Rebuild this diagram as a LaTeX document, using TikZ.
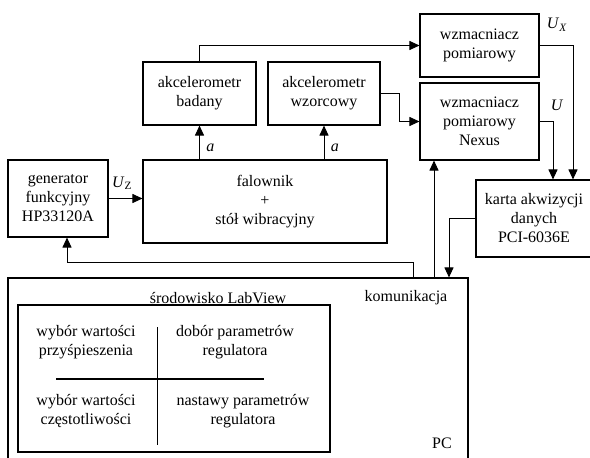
\documentclass[tikz,border=0pt]{standalone}
\usepackage{fontspec}
\setmainfont{Liberation Serif}
\usetikzlibrary{arrows.meta}

\tikzset{
    blok/.style={draw, line width=1.1pt, align=center, inner sep=0pt},
    arr/.style={-{Triangle[length=10pt,width=9pt]}, line width=1pt},
    lin/.style={line width=1pt},
}

\begin{document}
\begin{tikzpicture}[x=1pt, y=-1pt, font=\fontsize{16}{19}\selectfont]
        \clip (0, 0) rectangle (590, 458);

        \node[blok, minimum width=100, minimum height=77] (gen) at (58, 198.5) {generator\\funkcyjny\\HP33120A};
        \node[blok, minimum width=244, minimum height=83] (fal) at (265, 201.5) {falownik\\+\\stół wibracyjny};
        \node[blok, minimum width=113, minimum height=63] (bad) at (199.5, 93.5) {akcelerometr\\badany};
        \node[blok, minimum width=112, minimum height=63] (wzo) at (324, 93.5) {akcelerometr\\wzorcowy};
        \node[blok, minimum width=119, minimum height=63] (wzm) at (479.5, 45.5) {wzmacniacz\\pomiarowy};
        \node[blok, minimum width=119, minimum height=77] (nex) at (479.5, 121.5) {wzmacniacz\\pomiarowy\\Nexus};
        \node[blok, minimum width=116, minimum height=77] (karta) at (534, 218.5) {karta akwizycji\\danych\\PCI-6036E};
        \node[blok, minimum width=460, minimum height=192] (pc) at (238, 374) {};
        \node[blok, minimum width=312, minimum height=147] (env) at (174, 378.5) {};

        % sygnaly
        \draw[arr] (gen.east) -- (gen.east -| fal.west) node[pos=0.4, above=5pt] {\textit{U}\textsubscript{Z}};
        \draw[arr] (bad.south |- fal.north) -- (bad.south) node[pos=0.35, right=3pt] {\textit{a}};
        \draw[arr] (wzo.south |- fal.north) -- (wzo.south) node[pos=0.35, right=3pt] {\textit{a}};
        \draw[arr] (bad.north) |- (wzm.west);
        \draw[arr] (wzo.east) -- ++(19, 0) |- (nex.west);
        \draw[arr] (wzm.east) -| ([xshift=39pt] karta.north);
        \draw[arr] (nex.east) -| ([xshift=19pt] karta.north);
        \node at (557, 25) {\textit{U}\textsubscript{\textit{X}}};
        \node at (557, 105) {\textit{U}};

        % komunikacja z PC
        \draw[arr] ([xshift=175pt] pc.north) |- ++(0, -15) -| ([xshift=9pt] gen.south);
        \draw[arr] ([xshift=196pt] pc.north) -- ([xshift=196pt] pc.north |- nex.south);
        \draw[arr] (karta.west) -| ([xshift=211pt] pc.north);

        % srodowisko LabView
        \node (lv) at (218, 298) {środowisko LabView};
        \node (kom) at (406, 298) {komunikacja};
        \node (pcl) at (442, 443) {PC};
        \node[align=center] (acc) at (86, 342) {wybór wartości\\przyśpieszenia};
        \node[align=center] (dob) at (235, 342) {dobór parametrów\\regulatora};
        \node[align=center] (frq) at (86, 411) {wybór wartości\\częstotliwości};
        \node[align=center] (nas) at (243, 411) {nastawy parametrów\\regulatora};
        \draw[line width=1.8pt] (56, 379) -- (264, 379);
        \draw[lin] (157, 327) -- (157, 445);
    \end{tikzpicture}
\end{document}
